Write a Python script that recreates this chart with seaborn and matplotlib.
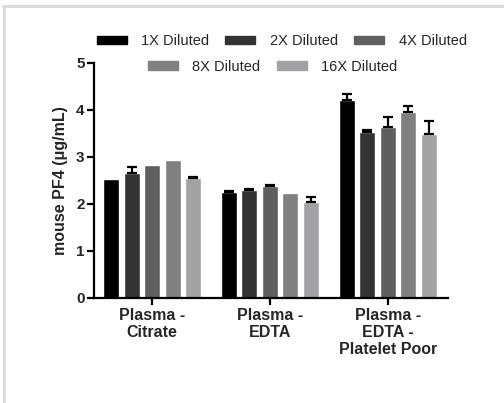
import matplotlib
matplotlib.use("Agg")
import matplotlib.pyplot as plt
import matplotlib.patches as mpatches
from matplotlib.lines import Line2D
import seaborn as sns
import pandas as pd
import numpy as np

categories = ["Plasma -\nCitrate", "Plasma -\nEDTA", "Plasma -\nEDTA -\nPlatelet Poor"]
dilutions = ["1X Diluted", "2X Diluted", "4X Diluted", "8X Diluted", "16X Diluted"]
values = {
    "1X Diluted": [2.52, 2.26, 4.20],
    "2X Diluted": [2.65, 2.29, 3.53],
    "4X Diluted": [2.82, 2.39, 3.64],
    "8X Diluted": [2.94, 2.23, 3.95],
    "16X Diluted": [2.54, 2.04, 3.48],
}
errors = {
    "1X Diluted": [0.0, 0.02, 0.14],
    "2X Diluted": [0.13, 0.02, 0.04],
    "4X Diluted": [0.0, 0.02, 0.20],
    "8X Diluted": [0.0, 0.0, 0.14],
    "16X Diluted": [0.03, 0.11, 0.29],
}
colors = ["#000000", "#333333", "#5f5f5f", "#808080", "#a2a2a4"]

sns.set_theme(style="white")
plt.rcParams["font.family"] = ["Liberation Sans", "DejaVu Sans"]

rows = []
for d in dilutions:
    for c, v, e in zip(categories, values[d], errors[d]):
        rows.append({"cat": c, "dil": d, "val": v, "err": e})
df = pd.DataFrame(rows)

fig = plt.figure(figsize=(5.04, 4.03), dpi=100)
ax = fig.add_axes([0.187, 0.261, 0.702, 0.583])

sns.barplot(data=df, x="cat", y="val", hue="dil", order=categories,
            hue_order=dilutions, palette=colors, width=0.87, gap=0.22,
            errorbar=None, legend=False, ax=ax, saturation=1)

# error bars (upper only) at bar positions
for i, d in enumerate(dilutions):
    cont = ax.containers[i]
    for p, e in zip(cont.patches, errors[d]):
        if e <= 0:
            continue
        xc = p.get_x() + p.get_width() / 2
        ax.errorbar([xc], [p.get_height()], yerr=[[0], [e]], fmt="none",
                    ecolor="black", elinewidth=1.6, capsize=3.5, capthick=1.6)

ax.set_xlim(-0.49, 2.51)
ax.set_ylim(0, 5)
ax.set_yticks([0, 1, 2, 3, 4, 5])
ax.set_xlabel("")
ax.set_ylabel("mouse PF4 (\u03bcg/mL)", fontsize=11.5, fontweight="bold", labelpad=6)
for s in ["top", "right"]:
    ax.spines[s].set_visible(False)
for s in ["left", "bottom"]:
    ax.spines[s].set_linewidth(1.6)
    ax.spines[s].set_color("black")
ax.tick_params(axis="both", which="major", length=5, width=1.6, color="black",
               left=True, bottom=True, direction="out", pad=2)
for lab in ax.get_yticklabels():
    lab.set_fontweight("bold")
    lab.set_fontsize(11)
for lab in ax.get_xticklabels():
    lab.set_fontweight("bold")
    lab.set_fontsize(11.5)
    lab.set_linespacing(1.2)

handles = [mpatches.Patch(color=c) for c in colors]
leg_kw = dict(frameon=False, fontsize=10.5, handlelength=2.05, handleheight=0.55,
              handletextpad=1.0, columnspacing=1.1, borderpad=0, borderaxespad=0)
leg1 = fig.legend(handles[:3], dilutions[:3], ncol=3, loc="center",
                  bbox_to_anchor=(0.559, 0.898), **leg_kw)
leg2 = fig.legend(handles[3:], dilutions[3:], ncol=2, loc="center",
                  bbox_to_anchor=(0.541, 0.834), **leg_kw)

# light grey frame lines (top and left)
fig.add_artist(Line2D([3 / 504, 1.0], [1 - 6 / 403, 1 - 6 / 403], color="#dcdcdc", lw=2.2))
fig.add_artist(Line2D([4 / 504, 4 / 504], [0, 1 - 6 / 403], color="#dcdcdc", lw=2.2))

fig.savefig("out.png", dpi=100)
